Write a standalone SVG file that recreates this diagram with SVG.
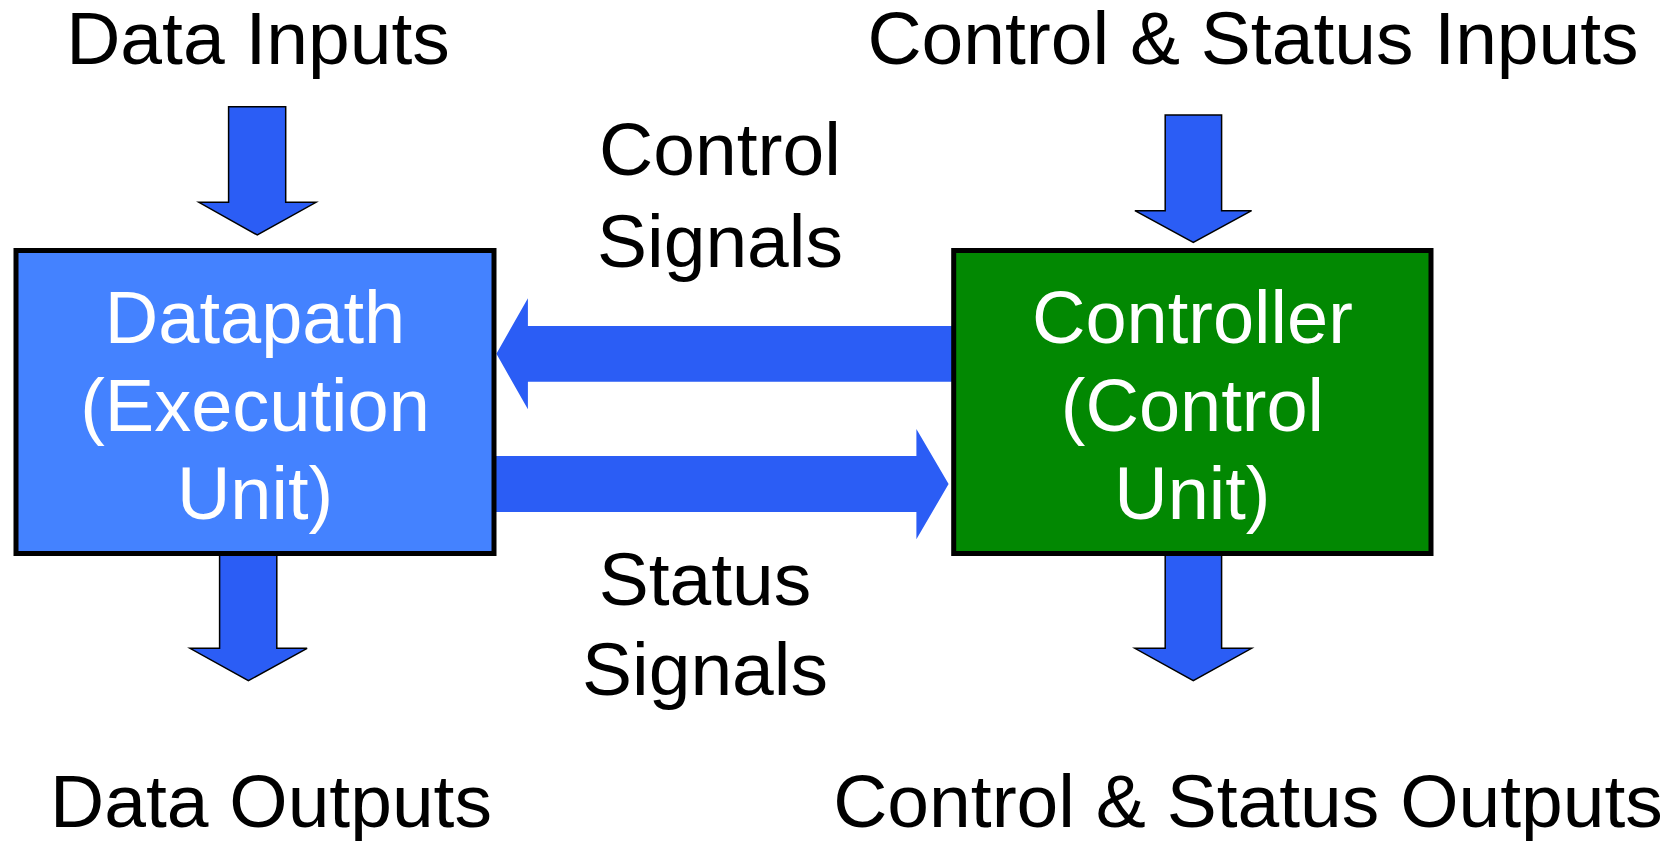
<svg xmlns="http://www.w3.org/2000/svg" width="1677" height="841" viewBox="0 0 1677 841">
  <style>
    text { font-family: "Liberation Sans", Arial, Helvetica, sans-serif; text-anchor: middle; }
    .lbl { font-size: 75px; fill: #000000; }
    .in { font-size: 74px; fill: #ffffff; }
    .box { stroke: #000000; stroke-width: 5; }
    .vArrow { fill: #2b5df5; stroke: #000000; stroke-width: 1.5; stroke-linejoin: miter; }
    .hArrow { fill: #2b5df5; stroke: none; }
  </style>
  <rect x="0" y="0" width="1677" height="841" fill="#ffffff"/>

  <g id="connectors">
    <path id="data-in" class="vArrow" d="M228.6,106.7 H285.7 V202.3 H316 L257.3,235 L198.9,202.3 H228.6 Z"/>
    <path id="ctrl-in" class="vArrow" d="M1165.2,115 H1221.6 V210.7 H1251.6 L1193.3,242.3 L1134.9,210.7 H1165.2 Z"/>
    <path id="data-out" class="vArrow" d="M219.6,555 H276.8 V648.3 H307.1 L248.4,680.7 L190,648.3 H219.6 Z"/>
    <path id="ctrl-out" class="vArrow" d="M1165.2,555 H1221.6 V648.3 H1251.6 L1193.3,680.7 L1134.9,648.3 H1165.2 Z"/>
    <path id="control-signals" class="hArrow" d="M953,326 V381.7 H527.9 V409.3 L496.4,353.8 L527.9,298.3 V326 Z"/>
    <path id="status-signals" class="hArrow" d="M494.6,456 H916.4 V429 L948.6,484 L916.4,539.3 V512 H494.6 Z"/>
  </g>

  <g id="datapath">
    <rect class="box" x="16" y="250.5" width="478" height="303" fill="#4482ff"/>
    <text class="in" x="255" y="343">Datapath</text>
    <text class="in" x="255" y="431">(Execution</text>
    <text class="in" x="255" y="519">Unit)</text>
  </g>

  <g id="controller">
    <rect class="box" x="953.7" y="250.5" width="477.3" height="303" fill="#028802"/>
    <text class="in" x="1192.4" y="343">Controller</text>
    <text class="in" x="1192.4" y="431">(Control</text>
    <text class="in" x="1192.4" y="519">Unit)</text>
  </g>

  <g id="label-data-inputs">
    <text class="lbl" x="258" y="64">Data Inputs</text>
  </g>
  <g id="label-control-status-inputs">
    <text class="lbl" x="1253" y="64">Control &amp; Status Inputs</text>
  </g>
  <g id="label-control-signals">
    <text class="lbl" x="720" y="175">Control</text>
    <text class="lbl" x="720" y="266.7">Signals</text>
  </g>
  <g id="label-status-signals">
    <text class="lbl" x="705" y="605">Status</text>
    <text class="lbl" x="705" y="695">Signals</text>
  </g>
  <g id="label-data-outputs">
    <text class="lbl" x="271" y="826.7">Data Outputs</text>
  </g>
  <g id="label-control-status-outputs">
    <text class="lbl" x="1248" y="826.7">Control &amp; Status Outputs</text>
  </g>
</svg>
